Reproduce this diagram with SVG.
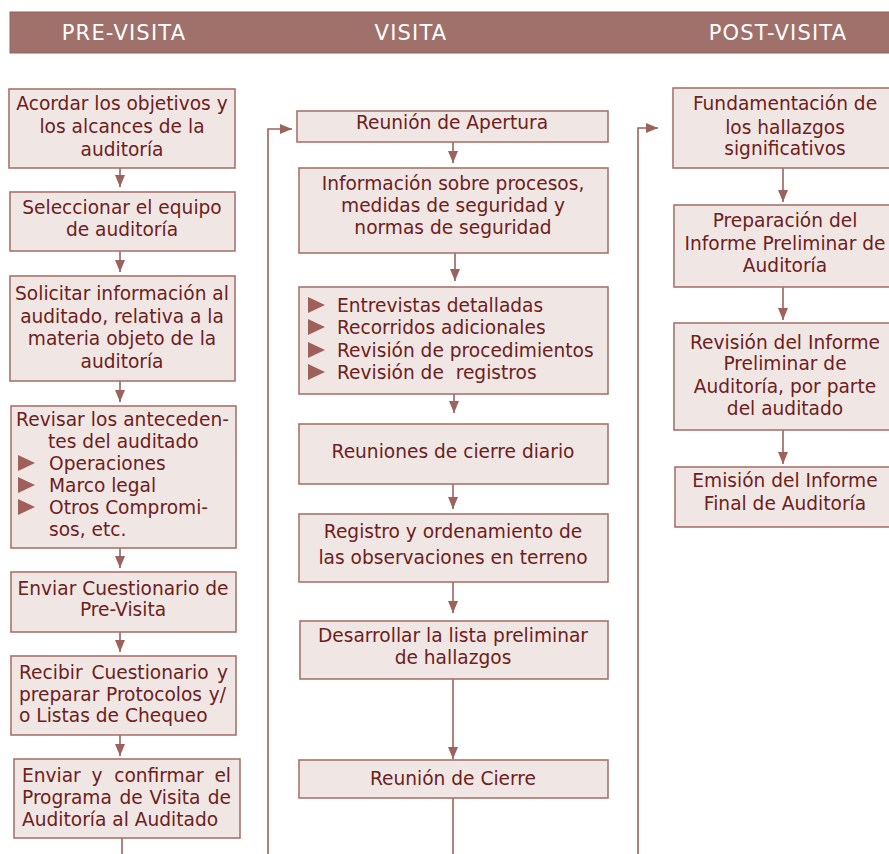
<svg xmlns="http://www.w3.org/2000/svg" width="889" height="854" viewBox="0 0 889 854">
<defs>
<style>
.box{fill:#f0e7e5;stroke:#a8736d;stroke-width:1.6}
.t{font-family:"DejaVu Sans",Verdana,sans-serif;font-size:18.6px;fill:#6e201c}
.c{text-anchor:middle}
.h{font-family:"DejaVu Sans",Verdana,sans-serif;font-size:21px;letter-spacing:1.2px;fill:#ffffff;text-anchor:middle}
.ln{stroke:#9c625c;stroke-width:1.6;fill:none}
.bul{fill:#a0605a}
</style>
<marker id="ah" viewBox="0 0 12 10" refX="12" refY="5" markerWidth="12" markerHeight="10" markerUnits="userSpaceOnUse" orient="auto">
<path d="M0,0 L12,5 L0,10 Z" fill="#9c625c"/>
</marker>
</defs>
<rect width="889" height="854" fill="#ffffff"/>
<g id="header">
<rect x="10" y="12" width="885" height="41" fill="#a0716b" stroke="#93625c" stroke-width="1"/>
<text class="h" x="124" y="40">PRE-VISITA</text>
<text class="h" x="411" y="40">VISITA</text>
<text class="h" x="778" y="40">POST-VISITA</text>
</g>
<g id="connectors">
<line class="ln" x1="120" y1="168" x2="120" y2="187" marker-end="url(#ah)"/>
<line class="ln" x1="120" y1="251" x2="120" y2="272" marker-end="url(#ah)"/>
<line class="ln" x1="120" y1="381" x2="120" y2="402" marker-end="url(#ah)"/>
<line class="ln" x1="120" y1="548" x2="120" y2="568" marker-end="url(#ah)"/>
<line class="ln" x1="120" y1="632" x2="120" y2="652" marker-end="url(#ah)"/>
<line class="ln" x1="120" y1="735" x2="120" y2="756" marker-end="url(#ah)"/>
<line class="ln" x1="122" y1="838" x2="122" y2="854"/>
<polyline class="ln" points="268,854 268,129 292,129" marker-end="url(#ah)"/>
<line class="ln" x1="453" y1="142" x2="453" y2="163" marker-end="url(#ah)"/>
<line class="ln" x1="455" y1="253" x2="455" y2="281" marker-end="url(#ah)"/>
<line class="ln" x1="454" y1="394" x2="454" y2="413" marker-end="url(#ah)"/>
<line class="ln" x1="453" y1="484" x2="453" y2="509" marker-end="url(#ah)"/>
<line class="ln" x1="453" y1="582" x2="453" y2="613" marker-end="url(#ah)"/>
<line class="ln" x1="453" y1="679" x2="453" y2="759" marker-end="url(#ah)"/>
<line class="ln" x1="453" y1="798" x2="453" y2="854"/>
<polyline class="ln" points="638,854 638,128 658,128" marker-end="url(#ah)"/>
<line class="ln" x1="783" y1="168" x2="783" y2="202" marker-end="url(#ah)"/>
<line class="ln" x1="783" y1="287" x2="783" y2="320" marker-end="url(#ah)"/>
<line class="ln" x1="783" y1="430" x2="783" y2="464" marker-end="url(#ah)"/>
</g>
<g id="pre1">
<rect class="box" x="9" y="89" width="226" height="79"/>
<text class="t c" x="122" y="110">Acordar los objetivos y</text>
<text class="t c" x="122" y="133">los alcances de la</text>
<text class="t c" x="122" y="156">auditoría</text>
</g>
<g id="pre2">
<rect class="box" x="10" y="192" width="225" height="59"/>
<text class="t c" x="122" y="214">Seleccionar el equipo</text>
<text class="t c" x="122" y="236">de auditoría</text>
</g>
<g id="pre3">
<rect class="box" x="10" y="276" width="225" height="105"/>
<text class="t c" x="122" y="300">Solicitar información al</text>
<text class="t c" x="122" y="323">auditado, relativa a la</text>
<text class="t c" x="122" y="345">materia objeto de la</text>
<text class="t c" x="122" y="368">auditoría</text>
</g>
<g id="pre4">
<rect class="box" x="11" y="406" width="225" height="142"/>
<text class="t" x="16" y="426" textLength="213" lengthAdjust="spacing">Revisar los anteceden-</text>
<text class="t" x="48" y="448">tes del auditado</text>
<polygon class="bul" points="18,455 35,463 18,471"/>
<text class="t" x="49" y="470">Operaciones</text>
<polygon class="bul" points="18,477 35,485 18,493"/>
<text class="t" x="49" y="492">Marco legal</text>
<polygon class="bul" points="18,499 35,507 18,515"/>
<text class="t" x="49" y="514">Otros Compromi-</text>
<text class="t" x="49" y="536">sos, etc.</text>
</g>
<g id="pre5">
<rect class="box" x="11" y="572" width="225" height="60"/>
<text class="t c" x="123" y="595">Enviar Cuestionario de</text>
<text class="t c" x="123" y="616">Pre-Visita</text>
</g>
<g id="pre6">
<rect class="box" x="11" y="656" width="225" height="79"/>
<text class="t" y="679"><tspan x="19">Recibir</tspan><tspan x="150" text-anchor="middle">Cuestionario</tspan><tspan x="228" text-anchor="end">y</tspan></text>
<text class="t" y="701"><tspan x="19">preparar</tspan><tspan x="154" text-anchor="middle">Protocolos</tspan><tspan x="226" text-anchor="end">y/</tspan></text>
<text class="t" x="19" y="722">o Listas de Chequeo</text>
</g>
<g id="pre7">
<rect class="box" x="14" y="759" width="226" height="79"/>
<text class="t" y="782"><tspan x="22">Enviar</tspan><tspan x="97" text-anchor="middle">y</tspan><tspan x="159" text-anchor="middle">confirmar</tspan><tspan x="231" text-anchor="end">el</tspan></text>
<text class="t" y="804"><tspan x="22">Programa</tspan><tspan x="131" text-anchor="middle">de</tspan><tspan x="175" text-anchor="middle">Visita</tspan><tspan x="231" text-anchor="end">de</tspan></text>
<text class="t" x="22" y="826">Auditoría al Auditado</text>
</g>
<g id="vis1">
<rect class="box" x="297" y="111" width="311" height="31"/>
<text class="t c" x="452" y="129">Reunión de Apertura</text>
</g>
<g id="vis2">
<rect class="box" x="299" y="168" width="309" height="85"/>
<text class="t c" x="453" y="190">Información sobre procesos,</text>
<text class="t c" x="453" y="212">medidas de seguridad y</text>
<text class="t c" x="453" y="234">normas de seguridad</text>
</g>
<g id="vis3">
<rect class="box" x="299" y="287" width="309" height="107"/>
<polygon class="bul" points="308,297 325,305 308,313"/>
<text class="t" x="337" y="312">Entrevistas detalladas</text>
<polygon class="bul" points="308,319 325,327 308,335"/>
<text class="t" x="337" y="334">Recorridos adicionales</text>
<polygon class="bul" points="308,342 325,350 308,358"/>
<text class="t" x="337" y="357">Revisión de procedimientos</text>
<polygon class="bul" points="308,364 325,372 308,380"/>
<text class="t" x="337" y="379" xml:space="preserve">Revisión de  registros</text>
</g>
<g id="vis4">
<rect class="box" x="299" y="424" width="309" height="60"/>
<text class="t c" x="453" y="458">Reuniones de cierre diario</text>
</g>
<g id="vis5">
<rect class="box" x="299" y="514" width="309" height="68"/>
<text class="t c" x="453" y="538">Registro y ordenamiento de</text>
<text class="t c" x="453" y="564">las observaciones en terreno</text>
</g>
<g id="vis6">
<rect class="box" x="300" y="621" width="308" height="58"/>
<text class="t c" x="453" y="642">Desarrollar la lista preliminar</text>
<text class="t c" x="453" y="664">de hallazgos</text>
</g>
<g id="vis7">
<rect class="box" x="299" y="760" width="309" height="38"/>
<text class="t c" x="453" y="785">Reunión de Cierre</text>
</g>
<g id="post1">
<rect class="box" x="673" y="88" width="224" height="80"/>
<text class="t c" x="785" y="110">Fundamentación de</text>
<text class="t c" x="785" y="134">los hallazgos</text>
<text class="t c" x="785" y="155">significativos</text>
</g>
<g id="post2">
<rect class="box" x="674" y="205" width="223" height="82"/>
<text class="t c" x="785" y="227">Preparación del</text>
<text class="t c" x="785" y="250">Informe Preliminar de</text>
<text class="t c" x="785" y="272">Auditoría</text>
</g>
<g id="post3">
<rect class="box" x="674" y="323" width="223" height="107"/>
<text class="t c" x="785" y="349">Revisión del Informe</text>
<text class="t c" x="785" y="370">Preliminar de</text>
<text class="t c" x="785" y="393">Auditoría, por parte</text>
<text class="t c" x="785" y="415">del auditado</text>
</g>
<g id="post4">
<rect class="box" x="675" y="467" width="222" height="60"/>
<text class="t c" x="785" y="487">Emisión del Informe</text>
<text class="t c" x="785" y="510">Final de Auditoría</text>
</g>
</svg>
